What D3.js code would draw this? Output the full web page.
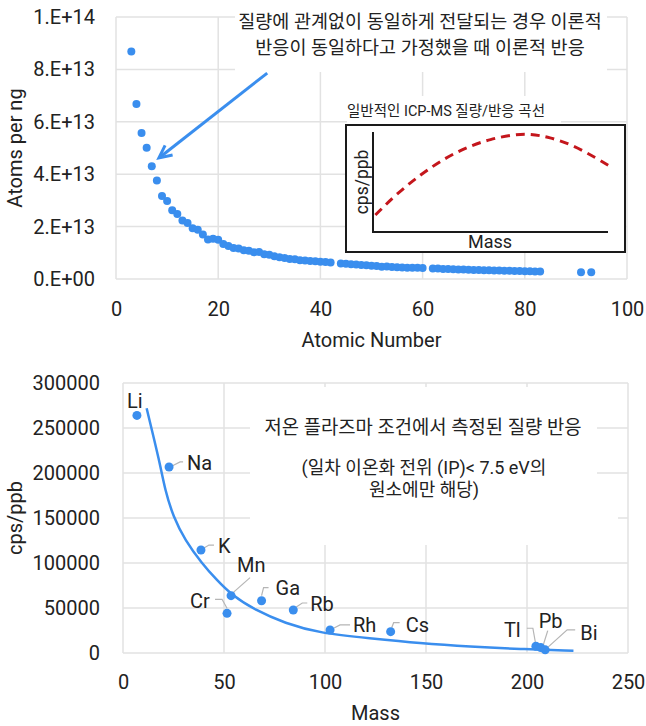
<!DOCTYPE html>
<html><head><meta charset="utf-8">
<script src="https://cdn.jsdelivr.net/npm/d3@7"></script>
<style>
body{margin:0;background:#fff;}
svg{display:block;font-family:Roboto,"Noto Sans CJK KR",sans-serif;}
</style></head><body>
<svg id="c" width="646" height="726"></svg>
<script>
// ---------- DATA ----------
// Top chart: atoms per ng vs atomic number
const atomicNumbers = [3,4,5,6,7,8,9,10,11,12,13,14,15,16,17,18,19,20,21,22,23,24,25,26,27,28,29,30,31,32,33,34,35,36,37,38,39,40,41,42,
  44,45,46,47,48,49,50,51,52,53,54,55,56,57,58,59,60,
  62,63,64,65,66,67,68,69,70,71,72,73,74,75,76,77,78,79,80,81,82,83,91,93];
const atomsPerNg = [8.68e13,6.68e13,5.57e13,5.01e13,4.30e13,3.76e13,3.17e13,2.98e13,2.62e13,2.48e13,2.23e13,2.14e13,1.94e13,1.88e13,1.70e13,1.51e13,1.54e13,1.50e13,1.34e13,1.26e13,1.18e13,1.16e13,1.10e13,1.08e13,1.02e13,1.03e13,9.48e12,9.21e12,8.64e12,8.29e12,8.04e12,7.63e12,7.54e12,7.19e12,7.05e12,6.87e12,6.77e12,6.60e12,6.48e12,6.28e12,
  5.96e12,5.85e12,5.66e12,5.58e12,5.36e12,5.24e12,5.07e12,4.95e12,4.72e12,4.75e12,4.59e12,4.53e12,4.39e12,4.34e12,4.30e12,4.27e12,4.18e12,
  4.01e12,3.96e12,3.83e12,3.79e12,3.71e12,3.65e12,3.60e12,3.56e12,3.48e12,3.44e12,3.37e12,3.33e12,3.28e12,3.23e12,3.17e12,3.13e12,3.09e12,3.06e12,3.00e12,2.95e12,2.91e12,2.88e12,2.60e12,2.53e12];
const topXTicks = [0,20,40,60,80,100];
const topYTicks = [0,2e13,4e13,6e13,8e13,1e14];
const topYTickLabels = ["0.E+00","2.E+13","4.E+13","6.E+13","8.E+13","1.E+14"];

// Inset: schematic typical ICP-MS mass response (relative units)
const insetMass = [0.01,0.10,0.20,0.30,0.40,0.50,0.60,0.67,0.75,0.85,0.95,1.02];
const insetResp = [0.17,0.38,0.57,0.73,0.85,0.93,0.975,0.98,0.95,0.87,0.74,0.64];

// Bottom chart: measured cool-plasma response
const elements = ["Li","Na","K","Cr","Mn","Ga","Rb","Rh","Cs","Tl","Pb","Bi"];
const elementMass = [6.9,22.8,38.6,51.5,53.5,68.6,84.3,102.5,132.5,204.4,206.8,209.0];
const elementCps = [264000,206700,114400,44100,63700,58100,47800,25600,23700,7500,6000,3500];
const fitMass = [11.7,18.3,20.8,24.9,30.7,39,46.4,53.8,65.3,80.2,97.5,122,147,172,196.5,223];
const fitCps  = [271900,210800,181000,151400,125500,99700,81100,64400,47800,33000,22000,16400,10800,7000,4400,2600];
const botXTicks = [0,50,100,150,200,250];
const botYTicks = [0,50000,100000,150000,200000,250000,300000];

// ---------- LAYOUT ----------
const blue = "#3a8eee", grid = "#e2e2e2", txt = "#222";
const svg = d3.select("#c");

// ===== TOP CHART =====
const tx = d3.scaleLinear().domain([0,100]).range([116,627]);
const ty = d3.scaleLinear().domain([0,1e14]).range([279,17]);
const gTop = svg.append("g");
gTop.selectAll("line.h").data(topYTicks).join("line")
  .attr("x1",tx(0)).attr("x2",tx(100)).attr("y1",d=>ty(d)).attr("y2",d=>ty(d))
  .attr("stroke",grid).attr("stroke-width",1.5);
gTop.selectAll("line.v").data(topXTicks).join("line")
  .attr("y1",ty(0)).attr("y2",ty(1e14)).attr("x1",d=>tx(d)).attr("x2",d=>tx(d))
  .attr("stroke",grid).attr("stroke-width",1.5);

const ayTop = svg.append("g").attr("transform",`translate(${tx(0)},0)`)
  .call(d3.axisLeft(ty).tickValues(topYTicks).tickFormat((d,i)=>topYTickLabels[i]).tickSize(0).tickPadding(21));
const axTop = svg.append("g").attr("transform",`translate(0,${ty(0)})`)
  .call(d3.axisBottom(tx).tickValues(topXTicks).tickFormat(d3.format("d")).tickSize(0).tickPadding(23));
[ayTop,axTop].forEach(g=>{g.select(".domain").remove();
  g.selectAll("text").attr("font-size",20).attr("fill",txt).attr("font-family",'Roboto,"Noto Sans CJK KR",sans-serif');});

svg.append("text").attr("x",(tx(0)+tx(100))/2).attr("y",347).attr("text-anchor","middle")
  .attr("font-size",20).attr("fill",txt).text("Atomic Number");
svg.append("text").attr("transform",`translate(22,${(ty(0)+ty(1e14))/2}) rotate(-90)`).attr("text-anchor","middle")
  .attr("font-size",20).attr("fill",txt).text("Atoms per ng");

// annotation background + text
svg.append("rect").attr("x",235).attr("y",0).attr("width",372).attr("height",72).attr("fill","#fff");
const ann1 = ["질량에 관계없이 동일하게 전달되는 경우 이론적","반응이 동일하다고 가정했을 때 이론적 반응"];
svg.selectAll("text.ann1").data(ann1).join("text").attr("class","ann1")
  .attr("x",420).attr("y",(d,i)=>28+i*26).attr("text-anchor","middle")
  .attr("font-size",18.5).attr("fill",txt).text(d=>d);

// arrow
const arrTail = [29.6,7.86e13], arrTip = [8.4,4.62e13];
const ax0 = tx(arrTail[0]), ay0 = ty(arrTail[1]), ax1 = tx(arrTip[0]), ay1 = ty(arrTip[1]);
const ang = Math.atan2(ay1-ay0, ax1-ax0);
svg.append("line").attr("x1",ax0).attr("y1",ay0).attr("x2",ax1-Math.cos(ang)*2).attr("y2",ay1-Math.sin(ang)*2)
  .attr("stroke",blue).attr("stroke-width",3);
const hl = 14, ha = Math.PI/7;
svg.append("path").attr("d",`M${ax1-hl*Math.cos(ang-ha)},${ay1-hl*Math.sin(ang-ha)}L${ax1},${ay1}L${ax1-hl*Math.cos(ang+ha)},${ay1-hl*Math.sin(ang+ha)}`)
  .attr("fill","none").attr("stroke",blue).attr("stroke-width",3).attr("stroke-linejoin","miter");

// inset
svg.append("rect").attr("x",347).attr("y",96).attr("width",214).attr("height",28).attr("fill","#fff");
svg.append("text").attr("x",347).attr("y",116).attr("font-size",14.5).attr("fill",txt).text("일반적인 ICP-MS 질량/반응 곡선");
svg.append("rect").attr("x",346).attr("y",125).attr("width",279).attr("height",127)
  .attr("fill","#fff").attr("stroke","#1a1a1a").attr("stroke-width",2);
const ix = d3.scaleLinear().domain([0,1]).range([373,608]);
const iy = d3.scaleLinear().domain([0,1]).range([232,132]);
svg.append("path").attr("d",`M${ix(0)},${iy(1)}V${iy(0)}H${ix(1)}`).attr("fill","none").attr("stroke","#1a1a1a").attr("stroke-width",2);
svg.append("path").datum(d3.range(insetMass.length))
  .attr("d",d3.line().x(i=>ix(insetMass[i])).y(i=>iy(insetResp[i])).curve(d3.curveBasis))
  .attr("fill","none").attr("stroke","#c4161c").attr("stroke-width",3).attr("stroke-dasharray","9,6");
svg.append("text").attr("transform",`translate(368,${iy(0.5)}) rotate(-90)`).attr("text-anchor","middle")
  .attr("font-size",17.5).attr("fill",txt).text("cps/ppb");
svg.append("text").attr("x",490).attr("y",248).attr("text-anchor","middle")
  .attr("font-size",18).attr("fill",txt).text("Mass");

// dots
svg.append("g").selectAll("circle").data(atomicNumbers).join("circle")
  .attr("cx",d=>tx(d)).attr("cy",(d,i)=>ty(atomsPerNg[i])).attr("r",4).attr("fill",blue);

// ===== BOTTOM CHART =====
const bx = d3.scaleLinear().domain([0,250]).range([123,628]);
const by = d3.scaleLinear().domain([0,300000]).range([653,383]);
const gB = svg.append("g");
gB.selectAll("line.h").data(botYTicks).join("line")
  .attr("x1",bx(0)).attr("x2",bx(250)).attr("y1",d=>by(d)).attr("y2",d=>by(d))
  .attr("stroke",grid).attr("stroke-width",1.5);
gB.selectAll("line.v").data(botXTicks).join("line")
  .attr("y1",by(0)).attr("y2",by(300000)).attr("x1",d=>bx(d)).attr("x2",d=>bx(d))
  .attr("stroke",grid).attr("stroke-width",1.5);
const ayB = svg.append("g").attr("transform",`translate(${bx(0)},0)`)
  .call(d3.axisLeft(by).tickValues(botYTicks).tickFormat(d3.format("d")).tickSize(0).tickPadding(23));
const axB = svg.append("g").attr("transform",`translate(0,${by(0)})`)
  .call(d3.axisBottom(bx).tickValues(botXTicks).tickFormat(d3.format("d")).tickSize(0).tickPadding(22));
[ayB,axB].forEach(g=>{g.select(".domain").remove();
  g.selectAll("text").attr("font-size",20).attr("fill",txt).attr("font-family",'Roboto,"Noto Sans CJK KR",sans-serif');});
svg.append("text").attr("x",(bx(0)+bx(250))/2).attr("y",720).attr("text-anchor","middle")
  .attr("font-size",20).attr("fill",txt).text("Mass");
svg.append("text").attr("transform",`translate(22,${(by(0)+by(300000))/2}) rotate(-90)`).attr("text-anchor","middle")
  .attr("font-size",20).attr("fill",txt).text("cps/ppb");

// annotation background + text
svg.append("rect").attr("x",250).attr("y",387).attr("width",347).attr("height",113).attr("fill","#fff");
svg.append("rect").attr("x",250).attr("y",499).attr("width",368).attr("height",46).attr("fill","#fff");
svg.append("text").attr("x",423).attr("y",434).attr("text-anchor","middle").attr("font-size",18.8).attr("fill",txt)
  .text("저온 플라즈마 조건에서 측정된 질량 반응");
const ann2 = ["(일차 이온화 전위 (IP)< 7.5 eV의","원소에만 해당)"];
svg.selectAll("text.ann2").data(ann2).join("text").attr("class","ann2")
  .attr("x",424).attr("y",(d,i)=>474+i*22).attr("text-anchor","middle")
  .attr("font-size",18).attr("fill",txt).text(d=>d);

// fitted curve
svg.append("path").datum(d3.range(fitMass.length))
  .attr("d",d3.line().x(i=>bx(fitMass[i])).y(i=>by(fitCps[i])).curve(d3.curveBasis))
  .attr("fill","none").attr("stroke",blue).attr("stroke-width",2.5);

// labels layout (pixel offsets from each point)
const labelLayout = {
  Li:{dx:-10,dy:-7,leader:null},
  Na:{dx:18,dy:3,leader:[[3,-1],[11,-5],[14,-5]]},
  K:{dx:17,dy:3,leader:[[3,-2],[8,-5],[13,-5]]},
  Cr:{dx:-37,dy:-5,leader:[[0,-5],[-5,-14],[-12,-14]]},
  Mn:{dx:6,dy:-24,leader:[[2,-3],[19,-18]]},
  Ga:{dx:14,dy:-6,leader:[[0,-5],[2,-13],[7,-13]]},
  Rb:{dx:17,dy:1,leader:[[3,-3],[9,-7],[14,-7]]},
  Rh:{dx:23,dy:2,leader:[[4,-2],[10,-5],[20,-5]]},
  Cs:{dx:15,dy:0,leader:[[1,-4],[3,-9],[9,-9]]},
  Tl:{dx:-32,dy:-9,leader:[[0,-1],[-3,-18],[-9,-18]]},
  Pb:{dx:-2,dy:-20,leader:[[2,-1],[7,-17]]},
  Bi:{dx:35,dy:-10,leader:[[2,-2],[22,-20],[30,-20]]}
};
const gL = svg.append("g");
elements.forEach((el,i)=>{
  const px = bx(elementMass[i]), py = by(elementCps[i]), L = labelLayout[el];
  if(L.leader) gL.append("path").attr("d",d3.line()(L.leader.map(p=>[px+p[0],py+p[1]])))
    .attr("fill","none").attr("stroke","#b5b5b5").attr("stroke-width",1.2);
});
svg.append("g").selectAll("circle").data(elements).join("circle")
  .attr("cx",(d,i)=>bx(elementMass[i])).attr("cy",(d,i)=>by(elementCps[i])).attr("r",4.5).attr("fill",blue);
svg.append("g").selectAll("text").data(elements).join("text")
  .attr("x",(d,i)=>bx(elementMass[i])+labelLayout[d].dx)
  .attr("y",(d,i)=>by(elementCps[i])+labelLayout[d].dy)
  .attr("font-size",20).attr("fill",txt).text(d=>d);
</script>
</body></html>
